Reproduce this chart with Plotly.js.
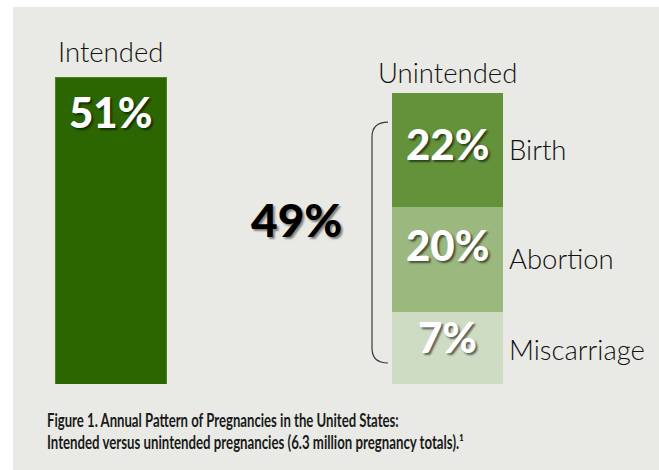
<!DOCTYPE html>
<html>
<head>
<meta charset="utf-8">
<script src="https://cdn.plot.ly/plotly-3.0.1.min.js"></script>
<style>
  html, body { margin: 0; padding: 0; background: #ffffff; }
  #chart { position: absolute; left: 13px; top: 7px; width: 646px; height: 463px; }
</style>
</head>
<body>
<div id="chart"></div>
<script>
// ---- data ----
const groups = ['Intended', 'Unintended'];
const intendedPercent = 51;
const intendedLabel = '51%';
const unintendedTotalLabel = '49%';
// segments of the unintended bar, bottom to top
const segmentNames = ['Miscarriage', 'Abortion', 'Birth'];
const segmentLabels = ['7%', '20%', '22%'];
// heights of the segments as they are drawn in the picture (same units as the intended bar)
const segmentDrawnHeights = [11.96, 17.44, 18.94];
const segmentColors = ['#cfdcc4', '#9bb87e', '#63923b'];
const intendedColor = '#2c6600';
const captionLines = [
  'Figure 1. Annual Pattern of Pregnancies in the United States:',
  'Intended versus unintended pregnancies (6.3 million pregnancy totals).¹'
];

const labelFont = "Lato, 'Open Sans', sans-serif";
const barWidth = 0.327;

const traces = [{
  type: 'bar', x: [groups[0]], y: [intendedPercent], width: barWidth,
  marker: { color: intendedColor, line: { color: '#4f7f2a', width: 1 } },
  hoverinfo: 'skip', showlegend: false
}];
segmentNames.forEach((n, i) => {
  traces.push({
    type: 'bar', name: n, x: [groups[1]], y: [segmentDrawnHeights[i]], width: barWidth,
    marker: { color: segmentColors[i], line: { width: 0 } },
    hoverinfo: 'skip', showlegend: false
  });
});

const whiteNum = { family: labelFont, size: 42, color: '#ffffff', weight: 900,
  shadow: '2px 2px 2px rgba(0,0,0,0.55)' };
const wordFont = { family: labelFont, size: 27.5, color: '#111111', weight: 300 };

const annotations = [
  { x: 0, y: 55.3, xref: 'x', yref: 'y', text: groups[0], showarrow: false, font: wordFont, xanchor: 'center', yanchor: 'middle' },
  { x: 1, y: 51.7, xref: 'x', yref: 'y', text: groups[1], showarrow: false, font: wordFont, xanchor: 'center', yanchor: 'middle' },
  { x: 0, y: 45.2, xref: 'x', yref: 'y', text: intendedLabel, showarrow: false, font: whiteNum, xanchor: 'center', yanchor: 'middle' },
  { x: 0.55, y: 27.4, xref: 'x', yref: 'y', text: unintendedTotalLabel, showarrow: false,
    font: { family: labelFont, size: 46, color: '#000000', weight: 900, shadow: '2px 2px 2px rgba(0,0,0,0.45)' },
    xanchor: 'center', yanchor: 'middle' }
];
const numY = [7.8, 23.1, 39.9];
const wordY = [5.8, 20.9, 38.9];
segmentNames.forEach((n, i) => {
  annotations.push({ x: 1, y: numY[i], xref: 'x', yref: 'y', text: segmentLabels[i], showarrow: false,
    font: whiteNum, xanchor: 'center', yanchor: 'middle' });
  annotations.push({ x: 1.178, y: wordY[i], xref: 'x', yref: 'y', text: n, showarrow: false,
    font: wordFont, xanchor: 'left', yanchor: 'middle' });
});
const capFont = { family: labelFont, size: 18, color: '#1a1a1a', weight: 700 };
annotations.push({ x: 0.0495, y: -0.062, xref: 'paper', yref: 'paper', text: captionLines[0], showarrow: false,
  font: capFont, xanchor: 'left', yanchor: 'top', align: 'left' });
annotations.push({ x: 0.0495, y: -0.120, xref: 'paper', yref: 'paper', text: captionLines[1], showarrow: false,
  font: capFont, xanchor: 'left', yanchor: 'top', align: 'left' });

// bracket to the left of the unintended bar
const bx0 = 0.7756, bx1 = 0.8232;
const by0 = 43.52, by1 = 41.03, by2 = 5.98, by3 = 3.49;
const shapes = [{
  type: 'path', xref: 'x', yref: 'y',
  path: `M ${bx1},${by0} Q ${bx0},${by0} ${bx0},${by1} L ${bx0},${by2} Q ${bx0},${by3} ${bx1},${by3}`,
  line: { color: '#3a3a3a', width: 1.2 }
}];

const layout = {
  width: 646, height: 463,
  margin: { l: 0, r: 0, t: 0, b: 86 },
  paper_bgcolor: '#e9eae5', plot_bgcolor: 'rgba(0,0,0,0)',
  barmode: 'stack', bargap: 0,
  xaxis: { type: 'category', range: [-0.2912, 1.6285], visible: false, fixedrange: true },
  yaxis: { range: [0, 62.63], visible: false, fixedrange: true },
  annotations: annotations, shapes: shapes, showlegend: false
};

// condensed look of the caption: target widths of the two lines, in pixels
const captionWidths = [352, 417];

Plotly.newPlot('chart', traces, layout, { staticPlot: true, displayModeBar: false }).then(gd => {
  gd.querySelectorAll('g.annotation').forEach(g => {
    const t = g.querySelector('text.annotation-text');
    if (!t) return;
    const idx = captionLines.indexOf(t.textContent);
    if (idx < 0) return;
    const w = t.getBBox().width;
    if (!w) return;
    t.style.transformBox = 'fill-box';
    t.style.transformOrigin = 'left center';
    t.style.transform = 'scaleX(' + (captionWidths[idx] / w) + ')';
  });
});
</script>
</body>
</html>
